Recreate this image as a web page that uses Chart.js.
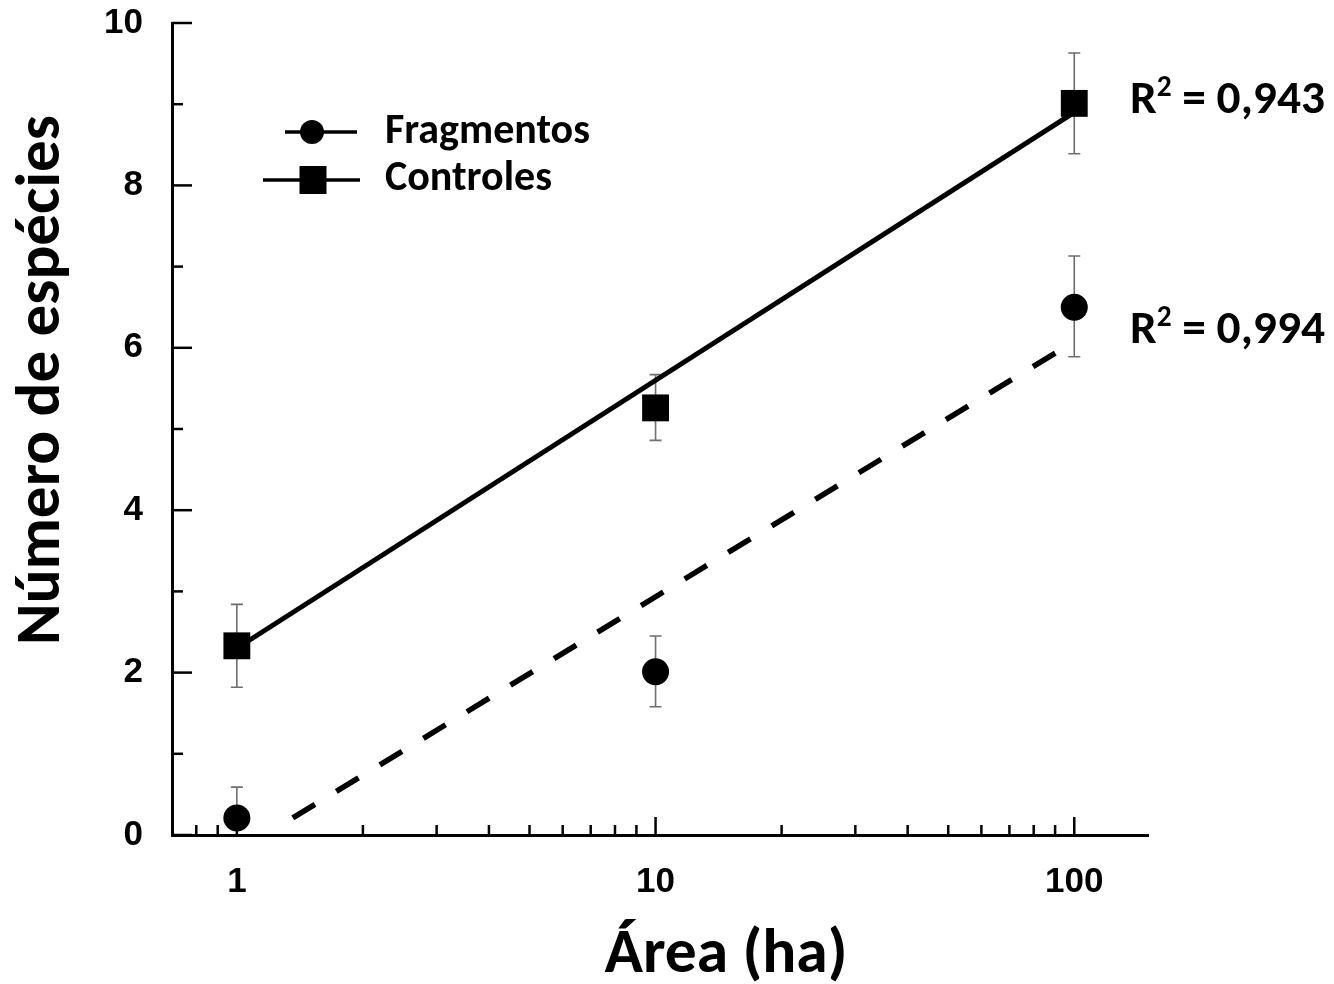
<!DOCTYPE html>
<html><head><meta charset="utf-8">
<script src="https://cdn.jsdelivr.net/npm/chart.js@4.4.0/dist/chart.umd.min.js"></script>
<style>html,body{margin:0;padding:0;background:#fff}#wrap{width:1334px;height:984px;position:relative}</style>
</head><body><div id="wrap"><canvas id="c"></canvas></div>
<script>
// ---- data ----
const areas = [1, 10, 100];
const fragmentos = [0.21, 2.01, 6.50];
const fragLow = [-0.17, 1.58, 5.89];
const fragHigh = [0.59, 2.45, 7.13];
const controles = [2.33, 5.26, 9.01];
const ctrlLow = [1.82, 4.86, 8.39];
const ctrlHigh = [2.84, 5.67, 9.63];
const ctrlFitX = [1, 100];
const ctrlFitY = [2.30, 8.90];
const fragFitX = [1.36, 91];
const fragFitY = [0.21, 5.95];
const xMajorTicks = [1, 10, 100];
const xMinorTicks = [0.8, 0.9, 2, 3, 4, 5, 6, 7, 8, 9, 20, 30, 40, 50, 60, 70, 80, 90];
const yLabels = [0, 2, 4, 6, 8, 10];
const seriesNames = ['Fragmentos', 'Controles'];
const r2Values = ['0,943', '0,994'];
const xTitle = 'Área (ha)';
const yTitle = 'Número de espécies';

const TEXT_FONT = 'Carlito, Lato, "Open Sans", sans-serif';

function pts(xs, ys) { return xs.map((x, i) => ({x: x, y: ys[i]})); }

function fitSize(ctx, text, targetW) {
  ctx.font = 'bold 100px ' + TEXT_FONT;
  return 100 * targetW / ctx.measureText(text).width;
}

const errorBars = {
  id: 'errorBars',
  beforeDatasetsDraw(chart) {
    const ctx = chart.ctx, xs = chart.scales.x, ys = chart.scales.y, a = chart.chartArea;
    ctx.save();
    ctx.beginPath(); ctx.rect(a.left, a.top - 30, a.right - a.left, a.bottom - a.top + 30); ctx.clip();
    ctx.strokeStyle = '#6e6e6e'; ctx.lineWidth = 1.6;
    const sets = [[fragLow, fragHigh], [ctrlLow, ctrlHigh]];
    sets.forEach(([lo, hi]) => {
      areas.forEach((x, i) => {
        const px = xs.getPixelForValue(x);
        const y1 = ys.getPixelForValue(lo[i]), y2 = ys.getPixelForValue(hi[i]);
        ctx.beginPath();
        ctx.moveTo(px, y1); ctx.lineTo(px, y2);
        ctx.moveTo(px - 6, y1); ctx.lineTo(px + 6, y1);
        ctx.moveTo(px - 6, y2); ctx.lineTo(px + 6, y2);
        ctx.stroke();
      });
    });
    ctx.restore();
  }
};

const innerTicks = {
  id: 'innerTicks',
  afterDraw(chart) {
    const ctx = chart.ctx, xs = chart.scales.x, ys = chart.scales.y, a = chart.chartArea;
    ctx.save();
    ctx.strokeStyle = '#000'; ctx.lineWidth = 2.5;
    ys.ticks.forEach(t => {
      const py = ys.getPixelForValue(t.value);
      const len = yLabels.includes(t.value) ? 20 : 11;
      ctx.beginPath(); ctx.moveTo(a.left, py); ctx.lineTo(a.left + len, py); ctx.stroke();
    });
    xs.ticks.forEach(t => {
      const px = xs.getPixelForValue(t.value);
      const len = xMajorTicks.includes(t.value) ? 18 : 10;
      ctx.beginPath(); ctx.moveTo(px, a.bottom); ctx.lineTo(px, a.bottom - len); ctx.stroke();
    });
    ctx.restore();
  }
};

const texts = {
  id: 'texts',
  afterDraw(chart) {
    const ctx = chart.ctx;
    ctx.save();
    ctx.fillStyle = '#000'; ctx.strokeStyle = '#000';
    ctx.textBaseline = 'alphabetic';

    // legend
    ctx.lineWidth = 3.5;
    ctx.beginPath(); ctx.moveTo(285, 132); ctx.lineTo(357, 132); ctx.stroke();
    ctx.beginPath(); ctx.arc(312, 132, 12, 0, Math.PI * 2); ctx.fill();
    ctx.beginPath(); ctx.moveTo(263, 180); ctx.lineTo(360, 180); ctx.stroke();
    ctx.fillRect(313 - 13.5, 180 - 14, 27, 28);
    ctx.textAlign = 'left';
    let s = fitSize(ctx, seriesNames[0], 205);
    ctx.font = 'bold ' + s + 'px ' + TEXT_FONT;
    ctx.fillText(seriesNames[0], 385, 143);
    s = fitSize(ctx, seriesNames[1], 167);
    ctx.font = 'bold ' + s + 'px ' + TEXT_FONT;
    ctx.fillText(seriesNames[1], 385, 190);

    // R² labels
    const r2Pos = [[1130, 113], [1130, 343]];
    r2Values.forEach((v, i) => {
      const rest = ' = ' + v;
      ctx.font = 'bold 100px ' + TEXT_FONT;
      const wR = ctx.measureText('R').width, wRest = ctx.measureText(rest).width;
      ctx.font = 'bold 62px ' + TEXT_FONT;
      const w2 = ctx.measureText('2').width;
      const size = 100 * 195 / (wR + w2 + wRest);
      let x = r2Pos[i][0]; const y = r2Pos[i][1];
      ctx.font = 'bold ' + size + 'px ' + TEXT_FONT;
      ctx.fillText('R', x, y); x += ctx.measureText('R').width;
      ctx.font = 'bold ' + (size * 0.62) + 'px ' + TEXT_FONT;
      ctx.fillText('2', x, y - size * 0.36); x += ctx.measureText('2').width;
      ctx.font = 'bold ' + size + 'px ' + TEXT_FONT;
      ctx.fillText(rest, x, y);
    });

    // axis titles
    ctx.textAlign = 'center';
    s = fitSize(ctx, xTitle, 243);
    ctx.font = 'bold ' + s + 'px ' + TEXT_FONT;
    ctx.fillText(xTitle, 726, 972);
    s = fitSize(ctx, yTitle, 530);
    ctx.font = 'bold ' + s + 'px ' + TEXT_FONT;
    ctx.translate(59, 380); ctx.rotate(-Math.PI / 2);
    ctx.fillText(yTitle, 0, 0);
    ctx.restore();
  }
};

new Chart(document.getElementById('c'), {
  type: 'scatter',
  data: {
    datasets: [
      {type: 'line', data: pts(ctrlFitX, ctrlFitY), borderColor: '#000', borderWidth: 5, pointRadius: 0, fill: false},
      {type: 'line', data: pts(fragFitX, fragFitY), borderColor: '#000', borderWidth: 5.5, borderDash: [26, 25], pointRadius: 0, fill: false},
      {label: seriesNames[1], data: pts(areas, controles), pointStyle: 'rect', pointRadius: 19, backgroundColor: '#000', borderColor: '#000', borderWidth: 0, showLine: false},
      {label: seriesNames[0], data: pts(areas, fragmentos), pointStyle: 'circle', pointRadius: 13.5, backgroundColor: '#000', borderColor: '#000', borderWidth: 0, showLine: false}
    ]
  },
  options: {
    responsive: true, maintainAspectRatio: false, animation: false,
    layout: {padding: {left: 0, top: 23, right: 186, bottom: 0}},
    plugins: {legend: {display: false}, tooltip: {enabled: false}},
    scales: {
      x: {
        type: 'logarithmic', min: 0.7, max: 150,
        afterFit: s => { s.height = 149; s.paddingLeft = 0; s.paddingRight = 0; },
        afterBuildTicks: s => { s.ticks = [...xMinorTicks, ...xMajorTicks].sort((a, b) => a - b).map(v => ({value: v})); },
        grid: {display: false, drawTicks: false},
        border: {display: true, color: '#000', width: 3},
        ticks: {autoSkip: false, maxRotation: 0, padding: 26, color: '#000',
          font: {family: '"Liberation Sans", Arial, sans-serif', weight: 'bold', size: 35},
          callback: v => xMajorTicks.includes(v) ? String(v) : ''}
      },
      y: {
        type: 'linear', min: 0, max: 10,
        afterFit: s => { s.width = 172; s.paddingTop = 0; s.paddingBottom = 0; },
        grid: {display: false, drawTicks: false},
        border: {display: true, color: '#000', width: 3},
        ticks: {stepSize: 1, autoSkip: false, padding: 29, color: '#000',
          font: {family: '"Liberation Sans", Arial, sans-serif', weight: 'bold', size: 35},
          callback: v => yLabels.includes(v) ? String(v) : ''}
      }
    }
  },
  plugins: [errorBars, innerTicks, texts]
});
</script>
</body></html>
